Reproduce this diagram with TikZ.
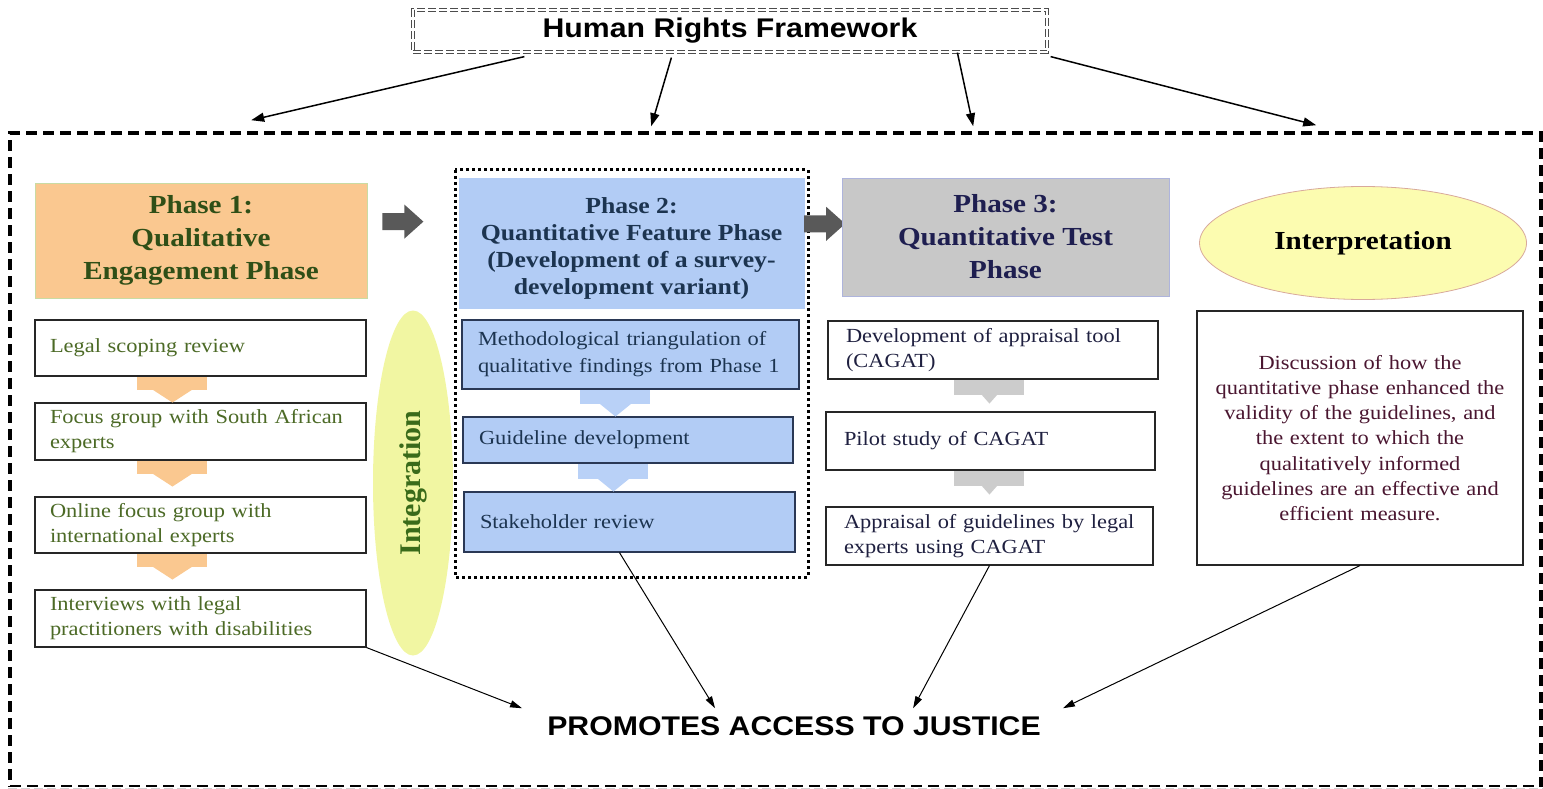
\documentclass[tikz,border=0pt]{standalone}
\usepackage{fontspec}
\setmainfont{Liberation Serif}[FakeStretch=1.12]
\newfontfamily\hrsans{Liberation Sans}[FakeStretch=1.12]
\newfontfamily\integfont{Liberation Serif}
\usepackage{xcolor}
\usetikzlibrary{arrows.meta,shapes.geometric}

% colours
\definecolor{p1fill}{HTML}{FAC890}
\definecolor{p1line}{HTML}{C9DBA3}
\definecolor{p1text}{HTML}{2F4F17}
\definecolor{b1text}{HTML}{4C6A26}
\definecolor{p1arr}{HTML}{FAC890}
\definecolor{p2fill}{HTML}{B2CCF5}
\definecolor{p2text}{HTML}{1C3450}
\definecolor{p2line}{HTML}{2A3855}
\definecolor{p2arr}{HTML}{B9D1F7}
\definecolor{p3fill}{HTML}{C8C8C8}
\definecolor{p3line}{HTML}{AEB4DC}
\definecolor{p3text}{HTML}{1E1E50}
\definecolor{t3text}{HTML}{1F2040}
\definecolor{p3arr}{HTML}{CCCCCC}
\definecolor{ipfill}{HTML}{FCFCB0}
\definecolor{ipline}{HTML}{D8A99B}
\definecolor{igfill}{HTML}{F1F6A2}
\definecolor{igtext}{HTML}{3A6B1A}
\definecolor{iptext}{HTML}{4A1630}
\definecolor{blockarr}{HTML}{595959}

\tikzset{
  hrbox/.style={draw=black!70, double=white, double distance=2pt, line width=1.2pt,
    dash pattern=on 8pt off 3pt, minimum width=634pt, minimum height=42pt,
    font=\hrsans\bfseries\fontsize{27}{30}\selectfont},
  outerframe/.style={draw, line width=3.6pt, dash pattern=on 11pt off 6pt},
  phaseone/.style={fill=p1fill, draw=p1line, line width=0.8pt, text=p1text, align=center,
    font=\bfseries\fontsize{26}{33}\selectfont},
  phasetwo/.style={fill=p2fill, draw=p2fill, text=p2text, align=center,
    font=\bfseries\fontsize{23}{27}\selectfont},
  phasethree/.style={fill=p3fill, draw=p3line, line width=0.8pt, text=p3text, align=center,
    font=\bfseries\fontsize{26}{33}\selectfont},
  stepbox/.style={draw=black!85, line width=1.1pt, fill=white, text=b1text, align=left,
    text width=301pt, inner xsep=15pt, font=\fontsize{20}{25}\selectfont},
  featbox/.style={draw=p2line, line width=1.1pt, fill=p2fill, text=p2text, align=left,
    inner xsep=16pt, font=\fontsize{20}{27}\selectfont},
  testbox/.style={draw=black!85, line width=1.1pt, fill=white, text=t3text, align=left,
    inner xsep=18pt, font=\fontsize{20}{25}\selectfont},
  interpbox/.style={draw=black!85, line width=1.1pt, fill=white, text=iptext, align=center,
    text width=306pt, inner xsep=10pt, font=\fontsize{20}{25.3}\selectfont},
  integ/.style={ellipse, fill=igfill, text=igtext, inner sep=0pt,
    font=\integfont\bfseries\fontsize{30}{30}\selectfont},
  interp/.style={ellipse, fill=ipfill, draw=ipline, line width=0.8pt, inner sep=0pt,
    font=\bfseries\fontsize{26}{30}\selectfont},
  frameline/.style={-{Triangle[length=13pt,width=9pt]}, line width=1.5pt},
  justline/.style={-{Triangle[length=12pt,width=7pt]}, line width=1pt},
  blockarrow/.style={fill=blockarr}
}

% small down arrows between steps: style, anchor, x offset, stem, head half width, head length
\newcommand{\dnarrow}[6]{%
  \begin{scope}[shift={(#2)}, xshift=#3pt]
    \fill[#1] (-35,0) rectangle (35,#4);
    \fill[#1] (-#5,#4) -- (#5,#4) -- (0,#4+#6) -- cycle;
  \end{scope}}
% grey block arrow between phases: anchor, x offset, y offset
\newcommand{\rtarrow}[3]{%
  \begin{scope}[shift={(#1)}, xshift=#2pt, yshift=-#3pt]
    \fill[blockarrow] (0,-8.5) -- (22,-8.5) -- (22,-17) -- (41,0) -- (22,17) -- (22,8.5) -- (0,8.5) -- cycle;
  \end{scope}}

\begin{document}
\begin{tikzpicture}[x=1pt, y=-1pt]
  \useasboundingbox (0,0) rectangle (1543,789);

  % framework and outer frame
  \node[hrbox] (title) at (730,31) {Human Rights Framework};
  \node[outerframe, minimum width=1531pt, minimum height=654pt] (frame) at (775.5,460) {};
  \draw[white, line width=4.5pt] (frame.south west) -- (frame.south east);
  \draw[gray!35, line width=1pt, dash pattern=on 9pt off 4pt] (frame.south west) -- (frame.south east);

  \draw[frameline] ([xshift=112pt, yshift=-4pt]title.south west) -- ([xshift=243pt, yshift=11pt]frame.north west);
  \draw[frameline] ([xshift=259pt, yshift=-5pt]title.south west) -- ([xshift=643pt, yshift=5pt]frame.north west);
  \draw[frameline] ([xshift=545pt]title.south west) -- ([xshift=965pt, yshift=5pt]frame.north west);
  \draw[frameline] ([xshift=3pt, yshift=-4pt]title.south east) -- ([xshift=1308pt, yshift=6pt]frame.north west);

  % Phase 1
  \node[phaseone, minimum width=332pt, minimum height=115pt] (p1) at (201,240.5)
    {Phase 1:\\Qualitative\\Engagement Phase};
  \node[stepbox, minimum height=56pt] (b1) at (200.5,348) {Legal scoping review};
  \node[stepbox, minimum height=57pt] (b2) at (200.5,431.5) {Focus group with South African\\experts};
  \node[stepbox, minimum height=56pt] (b3) at (200.5,525) {Online focus group with\\international experts};
  \node[stepbox, minimum height=57pt] (b4) at (200.5,618.5) {Interviews with legal\\practitioners with disabilities};
  \dnarrow{p1arr}{b1.south west}{138}{13}{20}{13}
  \dnarrow{p1arr}{b2.south west}{138}{13}{20}{13}
  \dnarrow{p1arr}{b3.south west}{138}{13}{20}{13}

  % Integration
  \node[integ, rotate=90, minimum width=345pt, minimum height=80pt] (integ) at (413,483) {Integration};

  % Phase 2
  \draw[line width=3pt, dash pattern=on 3pt off 3pt] (455,170) rectangle (808,577);
  \node[phasetwo, minimum width=345pt, minimum height=130pt] (p2) at (631.5,243)
    {\mbox{}\\[-1pt]Phase 2:\\Quantitative Feature Phase\\(Development of a survey-\\development variant)};
  \node[featbox, text width=305pt, minimum height=69pt] (s1) at (630.5,354.5)
    {Methodological triangulation of\\qualitative findings from Phase 1};
  \node[featbox, text width=298pt, minimum height=46pt] (s2) at (628,440) {Guideline development};
  \node[featbox, text width=299pt, minimum height=60pt] (s3) at (629.5,522) {Stakeholder review};
  \dnarrow{p2arr}{s1.south west}{154}{14}{16}{13}
  \dnarrow{p2arr}{s2.south west}{151}{15}{16}{13}
  \rtarrow{p1.north east}{15}{39}
  \rtarrow{p2.north east}{0}{46}

  % Phase 3
  \node[phasethree, minimum width=327pt, minimum height=118pt] (p3) at (1005.5,237)
    {Phase 3:\\Quantitative Test\\Phase};
  \node[testbox, text width=294pt, minimum height=58pt] (t1) at (993,350)
    {Development of appraisal tool\\(CAGAT)};
  \node[testbox, text width=293pt, minimum height=58pt] (t2) at (990.5,441) {Pilot study of CAGAT};
  \node[testbox, text width=291pt, minimum height=58pt] (t3) at (989.5,536)
    {Appraisal of guidelines by legal\\experts using CAGAT};
  \dnarrow{p3arr}{t1.south west}{162}{15}{8}{9}
  \dnarrow{p3arr}{t2.south west}{164}{15}{8}{9}

  % Interpretation
  \node[interp, minimum width=327pt, minimum height=113pt] (interp) at (1363,243) {Interpretation};
  \node[interpbox, minimum height=254pt] (ibox) at (1360,438)
    {Discussion of how the\\quantitative phase enhanced the\\validity of the guidelines, and\\the extent to which the\\qualitatively informed\\guidelines are an effective and\\efficient measure.};

  % outcome
  \node[inner sep=0pt, font=\hrsans\bfseries\fontsize{27}{30}\selectfont] (promotes) at (794,726)
    {PROMOTES ACCESS TO JUSTICE};
  \draw[justline] (b4.south east) -- ([xshift=-25pt, yshift=8pt]promotes.north west);
  \draw[justline] ([xshift=156pt]s3.south west) -- ([xshift=168pt, yshift=8pt]promotes.north west);
  \draw[justline] (t3.south) -- ([xshift=366pt, yshift=8pt]promotes.north west);
  \draw[justline] (ibox.south) -- ([xshift=22pt, yshift=8pt]promotes.north east);
\end{tikzpicture}
\end{document}
